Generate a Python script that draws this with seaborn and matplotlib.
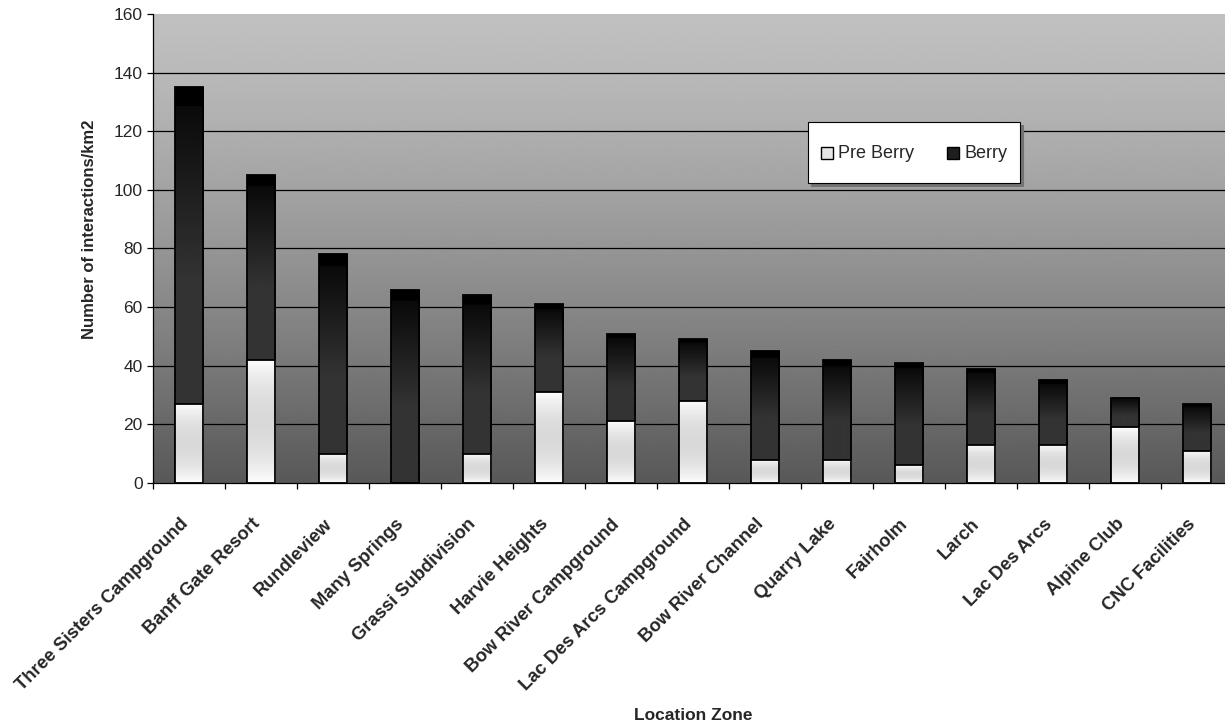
import numpy as np
import pandas as pd
import matplotlib
matplotlib.use("Agg")
import matplotlib.pyplot as plt
import seaborn as sns
from matplotlib.patches import Patch, Rectangle
from matplotlib.legend_handler import HandlerPatch
from matplotlib.ticker import FixedLocator, NullFormatter
import matplotlib.transforms as mtransforms

# ---- data -------------------------------------------------------------
zones = [
    "Three Sisters Campground", "Banff Gate Resort", "Rundleview",
    "Many Springs", "Grassi Subdivision", "Harvie Heights",
    "Bow River Campground", "Lac Des Arcs Campground", "Bow River Channel",
    "Quarry Lake", "Fairholm", "Larch", "Lac Des Arcs", "Alpine Club",
    "CNC Facilities",
]
pre_berry = [27, 42, 10, 0, 10, 31, 21, 28, 8, 8, 6, 13, 13, 19, 11]
berry = [108, 63, 68, 66, 54, 30, 30, 21, 37, 34, 35, 26, 22, 10, 16]
y_ticks = [0, 20, 40, 60, 80, 100, 120, 140, 160]

df = pd.DataFrame({"zone": zones, "pre": pre_berry, "berry": berry})
df["total"] = df["pre"] + df["berry"]

# ---- style -------------------------------------------------------------
sns.set_style("white")
plt.rcParams["font.family"] = ["Liberation Sans", "DejaVu Sans"]

W, H = 1225, 725
fig = plt.figure(figsize=(W / 100, H / 100), dpi=100)
fig.patch.set_facecolor("white")

# plot area in pixels (the area runs slightly past the right edge)
px_left, px_right, px_top, px_bottom = 153, 1233, 14, 483
ax = fig.add_axes([px_left / W, 1 - px_bottom / H,
                   (px_right - px_left) / W, (px_bottom - px_top) / H])
ax.set_facecolor("none")

# stacked bars: full height first (Berry segment on top), Pre Berry over it
sns.barplot(data=df, x="zone", y="total", color="#222222", width=0.4,
            edgecolor="black", linewidth=1.3, errorbar=None, ax=ax)
n = len(zones)
berry_patches = list(ax.patches[:n])
sns.barplot(data=df, x="zone", y="pre", color="#e0e0e0", width=0.4,
            edgecolor="black", linewidth=1.3, errorbar=None, ax=ax)
pre_patches = list(ax.patches[n:2 * n])

# background gradient: light grey at top to dark grey at bottom
t = np.linspace(0, 1, 400)
shade = (192 - 104 * t ** 1.3) / 255.0
bg = np.repeat(shade[:, None], 2, axis=1)
ax.imshow(bg, cmap="gray", vmin=0, vmax=1, aspect="auto",
          extent=(-0.5, n - 0.5, 0, 160), origin="upper",
          interpolation="bilinear", zorder=0)

# berry gradient: black cap, then darkening grey toward the segment base
tb = np.linspace(0, 1, 300)
berry_shade = np.where(tb < 0.06, 0.0,
                       np.clip(0.04 + 0.16 * (tb - 0.06) / 0.54, 0, 0.2))
berry_img = np.repeat(berry_shade[:, None], 2, axis=1)

# pre-berry gradient: white at both ends, light grey in the middle
tp = np.linspace(0, 1, 200)
pre_shade = 1.0 - 0.15 * np.sin(np.pi * tp) ** 0.8
pre_img = np.repeat(pre_shade[:, None], 2, axis=1)

for p, lo in zip(berry_patches, df["pre"]):
    x0 = p.get_x()
    w = p.get_width()
    top = p.get_y() + p.get_height()
    p.set_facecolor("none")
    p.set_zorder(2.1)
    im = ax.imshow(berry_img, cmap="gray", vmin=0, vmax=1, aspect="auto",
                   extent=(x0, x0 + w, lo, top), origin="upper",
                   interpolation="bilinear", zorder=2)
    im.set_clip_path(p)

for p in pre_patches:
    x0 = p.get_x()
    w = p.get_width()
    top = p.get_y() + p.get_height()
    p.set_facecolor("none")
    p.set_zorder(3.1)
    if top > 0:
        im = ax.imshow(pre_img, cmap="gray", vmin=0, vmax=1, aspect="auto",
                       extent=(x0, x0 + w, 0, top), origin="upper",
                       interpolation="bilinear", zorder=3)
        im.set_clip_path(p)

ax.set_xlim(-0.5, n - 0.5)
ax.set_ylim(0, 160)

# gridlines
for yv in y_ticks[1:-1]:
    ax.axhline(yv, color="black", linewidth=0.9, zorder=1)

# spines
for s in ["top", "right"]:
    ax.spines[s].set_visible(False)
for s in ["left", "bottom"]:
    ax.spines[s].set_color("black")
    ax.spines[s].set_linewidth(0.9)
    ax.spines[s].set_zorder(4)

# ticks
ax.yaxis.set_major_locator(FixedLocator(y_ticks))
ax.tick_params(axis="y", which="major", direction="out", length=4.5,
               width=0.9, color="black", labelsize=12.5, pad=3,
               left=True)
ax.xaxis.set_minor_locator(FixedLocator(np.arange(-0.5, n, 1.0)))
ax.xaxis.set_minor_formatter(NullFormatter())
ax.tick_params(axis="x", which="minor", direction="out", length=4.5,
               width=0.9, color="black", bottom=True)
ax.tick_params(axis="x", which="major", length=0, pad=23.5)

ax.set_xticks(range(n))
ax.set_xticklabels(zones, rotation=45, ha="right", va="top",
                   rotation_mode="anchor", fontsize=13.2, fontweight="bold")
shift = mtransforms.ScaledTranslation(-7 / 72, 0, fig.dpi_scale_trans)
for lab in ax.get_xticklabels():
    lab.set_transform(lab.get_transform() + shift)

ax.set_ylabel("Number of interactions/km2", fontsize=12, fontweight="bold")
ax.yaxis.set_label_coords((97 - px_left) / (px_right - px_left),
                          (px_bottom - 229.5) / (px_bottom - px_top))
ax.set_xlabel("Location Zone", fontsize=12.5, fontweight="bold")
ax.xaxis.set_label_coords(0.5, (px_bottom - 708) / (px_bottom - px_top))
ax.xaxis.label.set_va("top")


# legend: small square keys inside a taller entry box
def square_key(legend, orig_handle, xdescent, ydescent, width, height, fontsize):
    side = 8.6
    cx = -xdescent + width / 2
    cy = -ydescent + height / 2
    return Rectangle((cx - side / 2, cy - side / 2), side, side)


handles = [
    Patch(facecolor="#e6e6e6", edgecolor="black", linewidth=1.0, label="Pre Berry"),
    Patch(facecolor="#1e1e1e", edgecolor="black", linewidth=1.0, label="Berry"),
]
leg = ax.legend(handles=handles, ncol=2, loc="upper left",
                bbox_to_anchor=(808 / W, 1 - 122 / H),
                bbox_transform=fig.transFigure,
                fontsize=13, frameon=True, fancybox=False,
                shadow={"color": "0.45", "alpha": 1.0},
                borderpad=0.72, handlelength=0.68, handleheight=2.62,
                handletextpad=0.28, columnspacing=1.8, borderaxespad=0,
                handler_map={Patch: HandlerPatch(patch_func=square_key)})
frame = leg.get_frame()
frame.set_facecolor("white")
frame.set_edgecolor("black")
frame.set_linewidth(0.8)
frame.set_alpha(1.0)
leg.set_zorder(10)

fig.savefig("out.png", dpi=100, facecolor="white")
